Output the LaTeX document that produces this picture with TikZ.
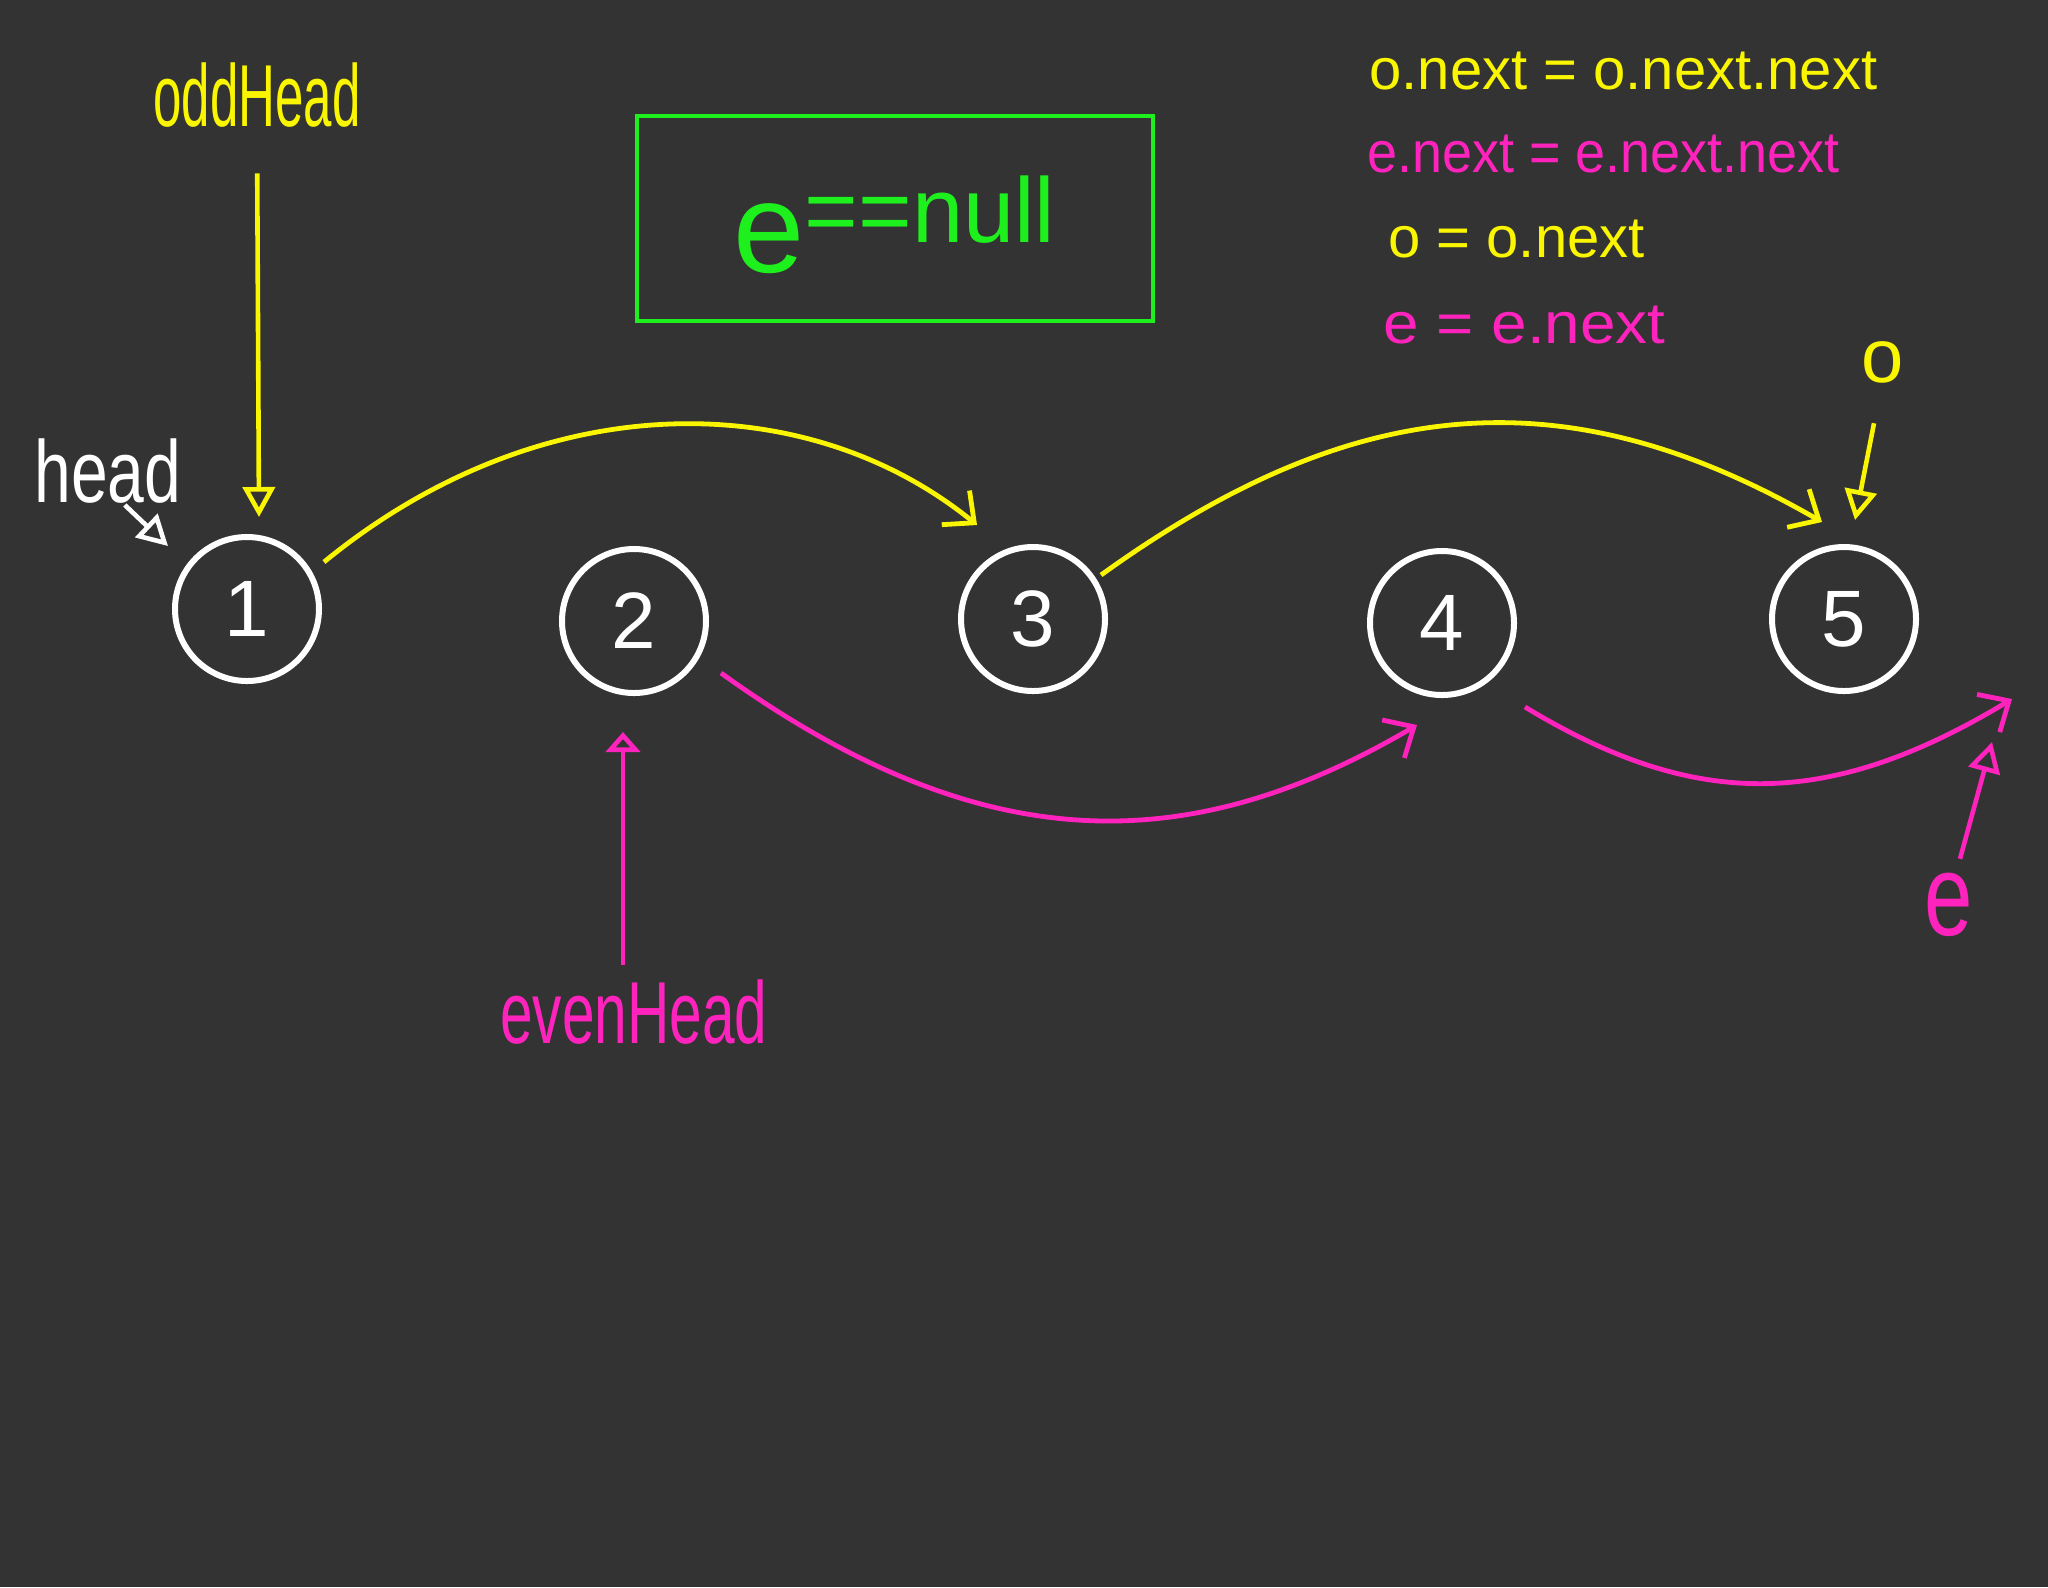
\documentclass[tikz,border=0pt]{standalone}
\usepackage{fontspec}
\setmainfont{Liberation Sans}
\usetikzlibrary{arrows.meta,calc}
\definecolor{bg}{RGB}{51,51,51}
\definecolor{hy}{RGB}{250,245,0}
\definecolor{hp}{RGB}{255,35,190}
\definecolor{hg}{RGB}{30,240,30}
\newcommand{\sqz}[2]{\scalebox{#1}[1]{#2}}
\begin{document}
\begin{tikzpicture}[x=0.5pt,y=0.5pt,
  listnode/.style={circle, draw=white, line width=3pt, minimum size=72pt, inner sep=0pt, text=white, font=\fontsize{40}{46}\selectfont},
  ylink/.style={draw=hy, line width=2.4pt, -{Straight Barb[length=12pt,width=22pt]}},
  plink/.style={draw=hp, line width=2.4pt, -{Straight Barb[length=12pt,width=22pt]}},
  ptr/.style={line width=2.3pt, -{Triangle[open,length=15pt,width=16pt]}},
  lbl/.style={inner sep=0pt, anchor=base west, font=\fontsize{44}{50}\selectfont},
  eq/.style={inner sep=0pt, anchor=base west, font=\fontsize{29}{34}\selectfont},
]
\fill[bg] (0,0) rectangle (2048,-1587);
\useasboundingbox (0,0) rectangle (2048,-1587);

% list nodes
\node[listnode] (n1) at (247,-609) {1};
\node[listnode] (n2) at (634,-621) {2};
\node[listnode] (n3) at (1033,-619) {3};
\node[listnode] (n4) at (1442,-623) {4};
\node[listnode] (n5) at (1844,-619) {5};
\coordinate (enull) at (2012,-699);

% labels
\node[lbl, text=hy] (oh) at (153,-126) {\sqz{0.58}{oddHead}};
\node[lbl, text=white] (hd) at (34,-502) {\sqz{0.75}{head}};
\node[lbl, text=hp] (eh) at (500,-1043) {\sqz{0.666}{evenHead}};
\node[inner sep=0pt, text=hy, font=\fontsize{38}{44}\selectfont] (ol) at (1883,-362) {o};
\node[inner sep=0pt, text=hp, font=\fontsize{58}{64}\selectfont] (el) at (1949,-905) {\sqz{0.75}{e}};

% condition box
\node[draw=hg, line width=2.4pt, minimum width=258pt, minimum height=102.5pt, inner sep=0pt] (box) at (895,-218.5) {};
\node[inner sep=0pt, anchor=base west, text=hg, font=\fontsize{46}{52}\selectfont] (cond) at (733,-272)
  {{\fontsize{64}{70}\selectfont e}\raisebox{15pt}{==null}};

% equations
\node[eq, text=hy] (q1) at (1369,-89) {o.next = o.next.next};
\node[eq, text=hp] (q2) at (1367,-172) {\sqz{0.93}{e.next = e.next.next}};
\node[eq, text=hy] (q3) at (1388,-257) {o = o.next};
\node[eq, text=hp] (q4) at (1383,-343) {\sqz{1.1}{e = e.next}};

% links
\draw[ylink] ($(n1)+(77,47)$) .. controls (540,-385) and (805,-385) .. ($(n3)+(-56,94)$);
\draw[ylink] ($(n3)+(68,44)$) .. controls (1351,-395) and (1562,-372) .. ($(n5)+(-22,97)$);
\draw[plink] ($(n2)+(87,-52)$) .. controls (981,-860) and (1187,-860) .. ($(n4)+(-25,-102)$);
\draw[plink] ($(n4)+(83,-84)$) .. controls (1695,-810) and (1828,-810) .. (enull);

% pointers
\draw[ptr, draw=hy, shorten <=23pt] (oh.south) -- ($(n1)+(12,92)$);
\draw[ptr, draw=white] ($(hd.base)+(17,-3)$) -- ($(n1)+(-79,63)$);
\draw[draw=hp, line width=2.3pt, -{Triangle[open,length=10pt,width=17pt]}] ($(eh.north west)+(123,14)$) -- ($(n2)+(-11,-111)$);
\draw[ptr, draw=hy] ($(ol.south)+(-9,-40)$) -- ($(n5)+(11,99)$);
\draw[ptr, draw=hp] ($(el.north)+(11,14)$) -- ($(enull)+(-20,-43)$);
\end{tikzpicture}
\end{document}
